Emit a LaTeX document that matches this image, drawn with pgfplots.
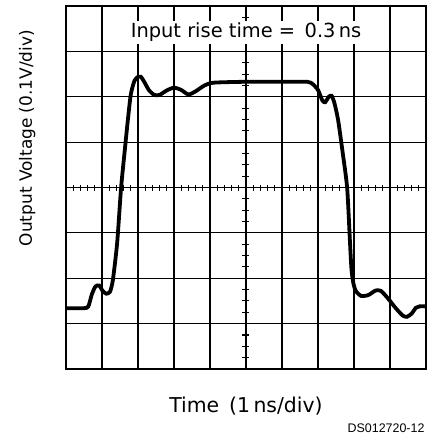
\documentclass[border=0pt]{standalone}
\usepackage{fontspec}
\setmainfont{DejaVu Sans}
\newfontfamily\dsfont{Liberation Sans}
\usepackage{pgfplots}
\pgfplotsset{compat=1.18}

% oscilloscope trace, 1 ns/div horizontally, 0.1 V/div vertically
\pgfplotstableread{
t v
-5.00 -2.66
-4.50 -2.66
-4.38 -2.62
-4.28 -2.35
-4.18 -2.18
-4.08 -2.16
-3.98 -2.28
-3.88 -2.34
-3.78 -2.30
-3.70 -2.05
-3.58 -1.23
-3.47 -0.01
-3.37 0.80
-3.28 1.50
-3.20 2.05
-3.10 2.35
-3.00 2.44
-2.92 2.44
-2.82 2.32
-2.70 2.15
-2.55 2.04
-2.40 2.04
-2.20 2.14
-2.00 2.20
-1.80 2.15
-1.60 2.05
-1.40 2.12
-1.15 2.25
-0.90 2.31
0.00 2.33
1.00 2.33
1.70 2.33
1.85 2.28
2.00 2.15
2.12 1.92
2.20 1.88
2.30 2.00
2.38 2.02
2.46 1.85
2.56 1.48
2.68 0.80
2.81 -0.01
2.89 -1.23
2.93 -1.80
2.98 -2.10
3.05 -2.28
3.20 -2.39
3.40 -2.37
3.60 -2.27
3.75 -2.28
3.95 -2.45
4.15 -2.65
4.35 -2.82
4.47 -2.85
4.60 -2.78
4.72 -2.65
4.82 -2.62
5.00 -2.62
}\trace

\begin{document}
\begin{tikzpicture}
\path[use as bounding box] (-66bp,-70bp) rectangle (363bp,369bp);
\begin{axis}[
    at={(0,0)}, anchor=south west,
    width=360bp, height=363bp, scale only axis,
    xmin=-5, xmax=5, ymin=-4, ymax=4,
    xtick={-5,-4,-3,-2,-1,0,1,2,3,4,5}, ytick={-4,-3,-2,-1,0,1,2,3,4},
    xticklabels={}, yticklabels={},
    major tick length=0pt,
    grid=major,
    grid style={black, line width=1.1bp},
    axis line style={black, line width=1.8bp},
    xlabel={Time\, (1\,ns/div)},
    ylabel={Output Voltage (0.1V/div)},
    xlabel style={at={(axis description cs:0.5,-0.102)}, anchor=center, font=\fontsize{20.5}{24}\selectfont},
    ylabel style={at={(axis description cs:-0.108,0.636)}, anchor=center, font=\fontsize{17}{20}\selectfont},
  ]
  \addplot[black, line width=3.8bp, smooth, tension=0.4] table[x=t, y=v] {\trace};
  % graticule centre lines with their subdivision ticks
  \draw[black, line width=1.4bp] (axis cs:-5,0) -- (axis cs:5,0);
  \draw[black, line width=1.4bp] (axis cs:0,-4) -- (axis cs:0,4);
  \pgfplotsinvokeforeach{-4.8,-4.6,-4.4,-4.2,-3.8,-3.6,-3.4,-3.2,-2.8,-2.6,-2.4,-2.2,-1.8,-1.6,-1.4,-1.2,-0.8,-0.6,-0.4,-0.2,
                         0.2,0.4,0.6,0.8,1.2,1.4,1.6,1.8,2.2,2.4,2.6,2.8,3.2,3.4,3.6,3.8,4.2,4.4,4.6,4.8}{
    \draw[black, line width=1.1bp] ([yshift=-3bp]axis cs:#1,0) -- ([yshift=3bp]axis cs:#1,0);
  }
  \pgfplotsinvokeforeach{-3.75,-3.5,-3.25,-2.75,-2.5,-2.25,-1.75,-1.5,-1.25,-0.75,-0.5,-0.25,
                         0.25,0.5,0.75,1.25,1.5,1.75,2.25,2.5,2.75,3.25,3.5,3.75}{
    \draw[black, line width=1.1bp] ([xshift=-3.5bp]axis cs:0,#1) -- ([xshift=3.5bp]axis cs:0,#1);
  }
  \node[fill=white, inner xsep=3bp, inner ysep=2bp, font=\fontsize{19.5}{22}\selectfont]
    at (axis cs:0,3.42) {Input rise time = \,0.3\,ns};
\end{axis}
\node[anchor=east, font=\dsfont\fontsize{12.5}{14}\selectfont] at (362bp,-59bp) {DS012720-12};
\end{tikzpicture}
\end{document}
